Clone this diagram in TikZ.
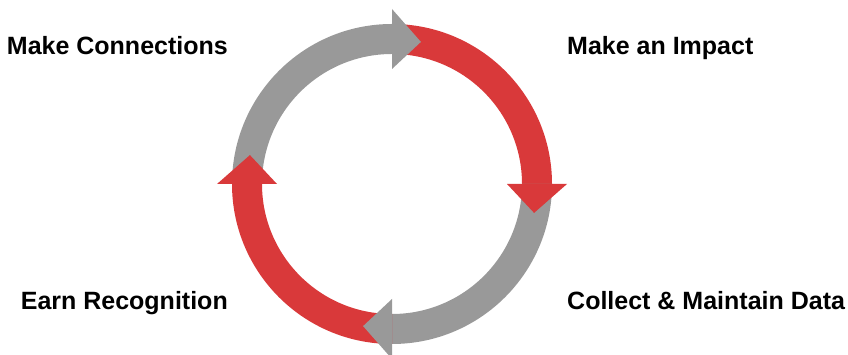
\documentclass[tikz,border=0pt]{standalone}
\usepackage{fontspec}
\setmainfont{Liberation Sans}
\definecolor{cyclered}{RGB}{217,57,58}
\definecolor{cyclegray}{RGB}{153,153,153}

\begin{document}
\begin{tikzpicture}[x=1pt,y=1pt,
    cyclelabel/.style={font=\fontsize{25}{30}\selectfont\bfseries, inner sep=0pt}]
                \useasboundingbox (0,0) rectangle (848,355);
                % Draw the ring segments first
                \foreach \a/\col in {180/cyclegray,90/cyclered,0/cyclegray,-90/cyclered}{
                    \fill[\col, shift={(392,171)}] (\a:160)
                        arc[start angle=\a, end angle=\a-90, radius=160]
                        -- (\a-90:130)
                        arc[start angle=\a-90, end angle=\a, radius=130] -- cycle;
                }
                % Draw the arrow heads on top of the next segment
                \foreach \a/\col in {90/cyclegray,0/cyclered,-90/cyclegray,-180/cyclered}{
                    \fill[\col, shift={(392,171)}] (\a:175) -- (\a-11.5:145) -- (\a:115) -- cycle;
                }
                % Labels in the four corners
                \node[cyclelabel, anchor=base east] (connect) at (228,300) {Make Connections};
                \node[cyclelabel, anchor=base west] (impact) at (567,300) {Make an Impact};
                \node[cyclelabel, anchor=base east] (recognition) at (228,45) {Earn Recognition};
                \node[cyclelabel, anchor=base west] (data) at (567,45) {Collect \& Maintain Data};
            \end{tikzpicture}
\end{document}
